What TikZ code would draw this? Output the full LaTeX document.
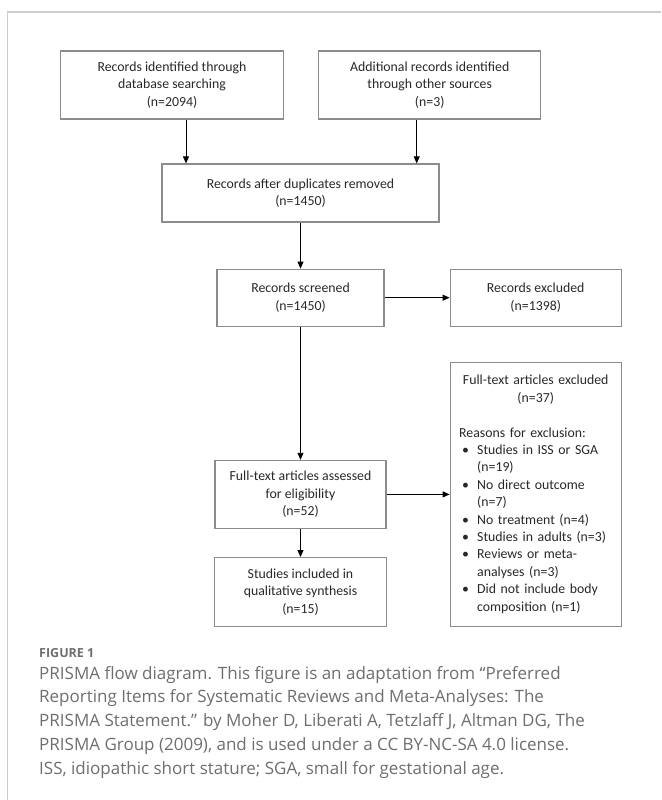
\documentclass[tikz,border=0pt]{standalone}
\usepackage{fontspec}
\setmainfont{Carlito}
\newfontfamily\captionfont{Open Sans}
\usetikzlibrary{arrows.meta, positioning}
\definecolor{boxBorder}{RGB}{140, 140, 140}
\definecolor{boxText}{RGB}{40, 40, 40}
\definecolor{frameGray}{RGB}{205, 205, 205}
\definecolor{captionGray}{RGB}{110, 110, 110}

\begin{document}
\begin{tikzpicture}[
    x=1pt, y=-1pt,
    node distance=30pt and 30pt,
    % Node styles
    flowbox/.style={
        rectangle,
        draw=boxBorder,
        line width=1.2pt,
        inner sep=0pt,
        align=center,
        font=\fontsize{13.8}{17.4}\selectfont,
        text=boxText
    },
    captext/.style={
        inner sep=0pt,
        align=left,
        font=\captionfont\fontsize{17}{23.75}\selectfont,
        text=captionGray
    },
    arrow/.style={
        -{Triangle[length=7pt,width=6pt]},
        line width=0.9pt,
        color=black
    },
    frameline/.style={
        draw=frameGray,
        line width=1.3pt
    }
]
\useasboundingbox (0,0) rectangle (661,800);

% Frame
\draw[frameline] (7.5,800) -- (7.5,12) -- (661,12);

% Identification
\node[flowbox, minimum width=223pt, minimum height=68pt] (dbsearch) at (172,85)
    {Records identified through\\database searching\\(n=2094)};
\node[flowbox, minimum width=222pt, minimum height=68pt, right=34pt of dbsearch] (othersrc)
    {Additional records identified\\through other sources\\(n=3)};
\node[flowbox, minimum width=277pt, minimum height=58pt] (dedup) at (300.5,193)
    {Records after duplicates removed\\(n=1450)};

% Screening
\node[flowbox, minimum width=167pt, minimum height=57pt, below=46pt of dedup] (screened)
    {Records screened\\(n=1450)};
\node[flowbox, minimum width=171pt, minimum height=57pt, right=65pt of screened] (recexcl)
    {Records excluded\\(n=1398)};

% Eligibility and inclusion
\node[flowbox, minimum width=171pt, minimum height=68pt, below=133pt of screened] (assessed)
    {Full-text articles assessed\\for eligibility\\(n=52)};
\node[flowbox, minimum width=172pt, minimum height=69pt, below=28pt of assessed] (included)
    {Studies included in\\qualitative synthesis\\(n=15)};
\node[flowbox, minimum width=171pt, minimum height=264pt, text width=153pt, align=left,
      right=63pt of assessed] (ftexcl)
    {{\centering Full-text articles excluded\\(n=37)\par}
     \vspace{17.4pt}
     Reasons for exclusion:\\
     \hspace*{3pt}\makebox[15pt][l]{\textbullet}Studies in ISS or SGA\\
     \hspace*{18pt}(n=19)\\
     \hspace*{3pt}\makebox[15pt][l]{\textbullet}No direct outcome\\
     \hspace*{18pt}(n=7)\\
     \hspace*{3pt}\makebox[15pt][l]{\textbullet}No treatment (n=4)\\
     \hspace*{3pt}\makebox[15pt][l]{\textbullet}Studies in adults (n=3)\\
     \hspace*{3pt}\makebox[15pt][l]{\textbullet}Reviews or meta-\\
     \hspace*{18pt}analyses (n=3)\\
     \hspace*{3pt}\makebox[15pt][l]{\textbullet}Did not include body\\
     \hspace*{18pt}composition (n=1)};

% Caption
\node[captext, anchor=base west, font=\captionfont\bfseries\fontsize{12.5}{15}\selectfont] (figlabel) at (39,657) {FIGURE 1};
\node[captext, anchor=north west] (caption) at (39,666)
    {PRISMA flow diagram. This figure is an adaptation from “Preferred\\
     Reporting Items for Systematic Reviews and Meta-Analyses: The\\
     PRISMA Statement.” by Moher D, Liberati A, Tetzlaff J, Altman DG, The\\
     PRISMA Group (2009), and is used under a CC BY-NC-SA 4.0 license.\\
     ISS, idiopathic short stature; SGA, small for gestational age.};

% Arrows
\draw[arrow] ([xshift=14pt]dbsearch.south) -- ([xshift=14pt]dbsearch.south |- dedup.north);
\draw[arrow] ([xshift=-13pt]othersrc.south) -- ([xshift=-13pt]othersrc.south |- dedup.north);
\draw[arrow] (screened.north |- dedup.south) -- (screened.north);
\draw[arrow] (screened) -- (recexcl);
\draw[arrow] (screened) -- (assessed);
\draw[arrow] (assessed) -- (assessed -| ftexcl.west);
\draw[arrow] (assessed) -- (included);

\end{tikzpicture}
\end{document}
